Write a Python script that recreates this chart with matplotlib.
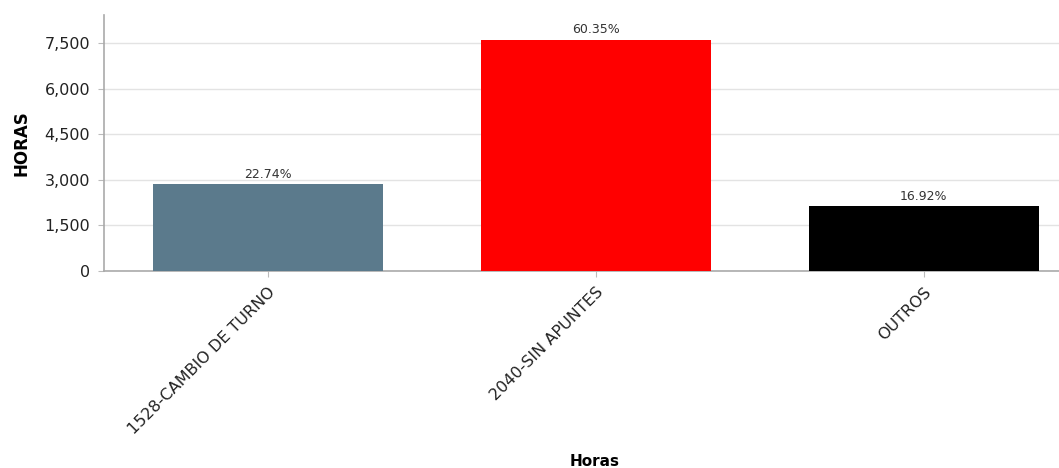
import matplotlib
matplotlib.use("Agg")
import matplotlib.pyplot as plt
from matplotlib.ticker import FuncFormatter

categories = ["1528-CAMBIO DE TURNO", "2040-SIN APUNTES", "OUTROS"]
hours = [2865, 7604, 2132]
percent_labels = ["22.74%", "60.35%", "16.92%"]
bar_colors = ["#5b7a8c", "#ff0000", "#000000"]
y_ticks = [0, 1500, 3000, 4500, 6000, 7500]

fig = plt.figure(figsize=(10.59, 4.68), dpi=100)
ax = fig.add_axes([0.0982, 0.4209, 0.929, 0.547])

x = range(len(categories))
bars = ax.bar(x, hours, width=0.7, color=bar_colors, zorder=3)

for rect, lab in zip(bars, percent_labels):
    ax.text(rect.get_x() + rect.get_width() / 2, rect.get_height() + 110, lab,
            ha="center", va="bottom", fontsize=9, color="#333333")

ax.set_xlim(-0.5, 2.5)
ax.set_ylim(0, 8420)
ax.set_yticks(y_ticks)
ax.yaxis.set_major_formatter(FuncFormatter(lambda v, p: f"{int(v):,}"))
ax.set_xticks(list(x))
ax.set_xticklabels(categories, rotation=45, ha="right", rotation_mode="anchor",
                   fontsize=11.5, color="#222222")
ax.tick_params(axis="y", labelsize=11.5, colors="#222222", length=4,
               color="#bbbbbb", pad=6)
ax.tick_params(axis="x", length=4, color="#bbbbbb", pad=6)

ax.grid(axis="y", color="#e3e3e3", linewidth=1, zorder=0)
ax.set_axisbelow(True)
for side in ("top", "right"):
    ax.spines[side].set_visible(False)
for side in ("left", "bottom"):
    ax.spines[side].set_color("#aaaaaa")
    ax.spines[side].set_linewidth(1.2)

ax.set_ylabel("HORAS", fontsize=12, fontweight="bold", labelpad=10)
fig.text(595 / 1059, 1 - 461 / 468, "Horas", ha="center", va="center",
         fontsize=11, fontweight="bold")

fig.savefig("out.png", dpi=100)
